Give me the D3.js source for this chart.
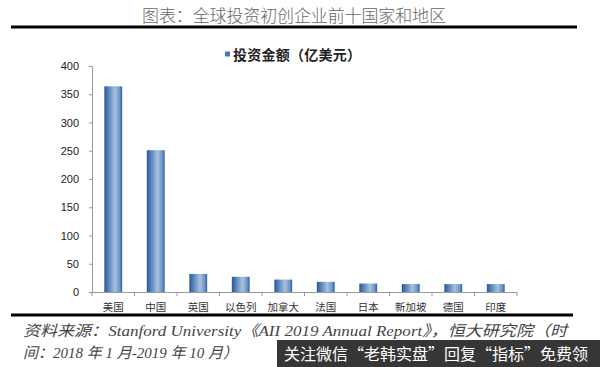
<!DOCTYPE html>
<html><head><meta charset="utf-8">
<script src="https://cdn.jsdelivr.net/npm/d3@7/dist/d3.min.js"></script>
<style>
html,body{margin:0;padding:0;background:#fff;}
svg{display:block;}
</style></head>
<body>
<svg id="c" width="600" height="367"></svg>
<script>
const categories = ["美国","中国","英国","以色列","加拿大","法国","日本","新加坡","德国","印度"];
const values = [364, 251, 32, 27, 22, 18, 15, 14, 14, 14];
const yTicks = [0, 50, 100, 150, 200, 250, 300, 350, 400];
const titleText = "图表：全球投资初创企业前十国家和地区";
const legendText = "投资金额（亿美元）";
const sourceLine1 = "资料来源：Stanford University《AII 2019 Annual Report》，恒大研究院（时";
const sourceLine2 = "间：2018 年 1 月-2019 年 10 月）";
const watermarkText = "关注微信“老韩实盘”回复“指标”免费领";

const svg = d3.select("#c");
const cjk = "'Noto Sans CJK SC', sans-serif";

const defs = svg.append("defs");
const grad = defs.append("linearGradient").attr("id","barGrad").attr("x1","0").attr("x2","1").attr("y1","0").attr("y2","0");
[[0,"#2a5794"],[0.25,"#5a86be"],[0.6,"#a8c1de"],[0.85,"#6f97c8"],[1,"#2f61a3"]].forEach(([o,c])=>
  grad.append("stop").attr("offset",o).attr("stop-color",c));

// title
svg.append("text").attr("x",294).attr("y",22).attr("text-anchor","middle")
  .attr("font-family",cjk).attr("font-size",17).attr("font-weight",300).attr("fill","#666")
  .attr("textLength",304).attr("lengthAdjust","spacing").text(titleText);
svg.append("line").attr("x1",11).attr("x2",577).attr("y1",27).attr("y2",27)
  .attr("stroke","#000").attr("stroke-width",3);

// legend
svg.append("rect").attr("x",225).attr("y",51.5).attr("width",5).attr("height",5).attr("fill","#4a78b4");
svg.append("text").attr("x",233).attr("y",60).attr("font-family",cjk).attr("font-size",14)
  .attr("font-weight","bold").attr("fill","#222").attr("textLength",128).attr("lengthAdjust","spacing").text(legendText);

// scales
const x = d3.scaleBand().domain(categories).range([92,517]).paddingInner(0.58).paddingOuter(0.29);
const y = d3.scaleLinear().domain([0,400]).range([292,66]);

// y axis
const yAxis = svg.append("g").attr("transform","translate(92,0)")
  .call(d3.axisLeft(y).tickValues(yTicks).tickSize(3).tickPadding(10));
yAxis.select(".domain").attr("stroke","#999");
yAxis.selectAll(".tick line").attr("stroke","#999");
yAxis.selectAll("text").attr("font-family","'Liberation Sans', Arial, sans-serif").attr("font-size",11).attr("fill","#222");

// bars
svg.append("g").selectAll("rect").data(values).join("rect")
  .attr("x",(d,i)=>x(categories[i]))
  .attr("width",x.bandwidth())
  .attr("y",d=>y(d))
  .attr("height",d=>y(0)-y(d))
  .attr("fill","url(#barGrad)");

// x axis
const xg = svg.append("g");
xg.append("line").attr("x1",92).attr("x2",517).attr("y1",y(0)+0.5).attr("y2",y(0)+0.5).attr("stroke","#999");
const step = x.step();
const bounds = d3.range(categories.length+1).map(i=>92+i*step);
xg.selectAll("line.t").data(bounds).join("line").attr("class","t")
  .attr("x1",d=>d).attr("x2",d=>d).attr("y1",y(0)).attr("y2",y(0)+4).attr("stroke","#999");
xg.selectAll("text").data(categories).join("text")
  .attr("x",d=>x(d)+x.bandwidth()/2).attr("y",311).attr("text-anchor","middle")
  .attr("font-family",cjk).attr("font-size",10.5).attr("fill","#333").text(d=>d);

// bottom rule
svg.append("line").attr("x1",11).attr("x2",573).attr("y1",315).attr("y2",315)
  .attr("stroke","#000").attr("stroke-width",3);

// source
svg.append("text").attr("x",23).attr("y",336).attr("font-family","'Liberation Serif', "+cjk)
  .attr("font-style","italic").attr("font-size",15).attr("fill","#444")
  .attr("textLength",544).attr("lengthAdjust","spacingAndGlyphs").text(sourceLine1);
svg.append("text").attr("x",23).attr("y",358).attr("font-family","'Liberation Serif', "+cjk)
  .attr("font-style","italic").attr("font-size",15).attr("fill","#444").text(sourceLine2);

// watermark overlay
svg.append("rect").attr("x",277).attr("y",340).attr("width",323).attr("height",27).attr("fill","#2b2b2b").attr("opacity",0.95);
svg.append("text").attr("x",284).attr("y",360).attr("font-family",cjk).attr("font-size",16)
  .attr("fill","#fff").text(watermarkText);
</script>
</body></html>
